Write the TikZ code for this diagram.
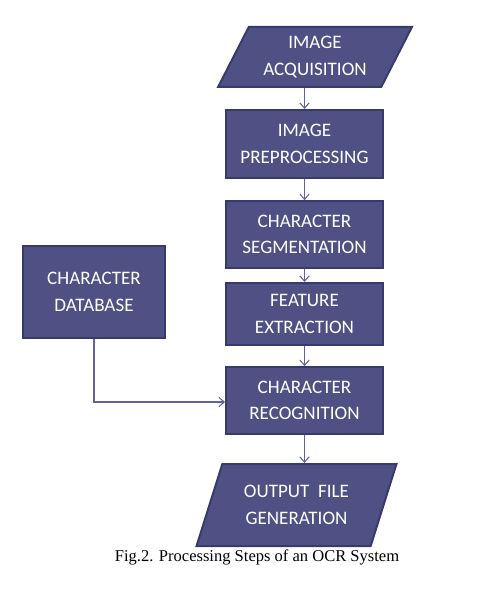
\documentclass[tikz,border=0pt]{standalone}
\usepackage{fontspec}
\setmainfont{Carlito}
\newfontfamily\capfont{Liberation Serif}
\usepackage{xcolor}
\usetikzlibrary{arrows.meta}
\usetikzlibrary{shapes.geometric}
\definecolor{boxfill}{HTML}{4F5184}
\definecolor{boxline}{HTML}{383A6B}
\definecolor{arrowcol}{HTML}{62639A}

\begin{document}
\begin{tikzpicture}[
  x=0.75pt, y=-0.75pt,
  stage/.style={draw=boxline, fill=boxfill, line width=1.5pt, text=white,
    align=center, font=\fontsize{14.3}{20}\selectfont, inner sep=0pt},
  procbox/.style={stage, rectangle, minimum width=117.75pt},
  iobox/.style={stage, trapezium, trapezium stretches=true,
    trapezium left angle=60, trapezium right angle=120},
  flow/.style={draw=arrowcol, line width=0.8pt, -{Straight Barb[length=4pt,width=7pt]}},
]
\useasboundingbox (0,0) rectangle (482,591);

\node [iobox, minimum width=145.5pt, minimum height=45pt] (acq) at (315,57)
  {IMAGE\\ACQUISITION};
\node [procbox, minimum height=51pt] (pre) at (304.5,144)
  {IMAGE\\PREPROCESSING};
\node [procbox, minimum height=50pt] (seg) at (304.5,234.5)
  {CHARACTER\\SEGMENTATION};
\node [procbox, minimum height=46.5pt] (feat) at (304.5,314)
  {FEATURE\\EXTRACTION};
\node [procbox, minimum height=50pt] (rec) at (304.5,400.5)
  {CHARACTER\\RECOGNITION};
\node [stage, rectangle, minimum width=106.5pt, minimum height=69pt] (db) at (94,292)
  {CHARACTER\\DATABASE};
\node [iobox, trapezium left angle=65, trapezium right angle=115,
  minimum width=150pt, minimum height=61.5pt] (out) at (296.5,505)
  {OUTPUT~~FILE\\GENERATION};

\node [font=\capfont\fontsize{12.4}{14}\selectfont] (cap) at (257,557)
  {Fig.2. Processing Steps of an OCR System};

\draw [flow] (pre.north |- acq.south) -- (pre.north);
\draw [flow] (pre) -- (seg);
\draw [flow] (seg) -- (feat);
\draw [flow] (feat) -- (rec);
\draw [flow] (rec.south) -- (rec.south |- out.north);
\draw [flow] (db.south) |- (rec.west |- 0,402);

\end{tikzpicture}
\end{document}
